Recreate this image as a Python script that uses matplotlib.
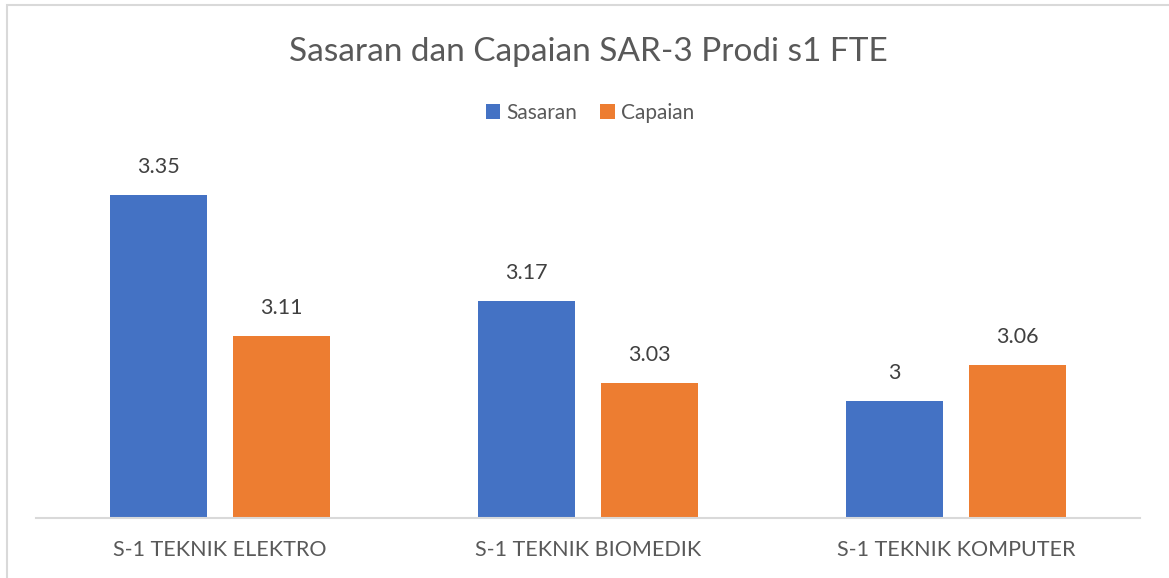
import numpy as np
from matplotlib import pyplot as plt
from matplotlib.patches import Rectangle

categories = ["S-1 TEKNIK ELEKTRO", "S-1 TEKNIK BIOMEDIK", "S-1 TEKNIK KOMPUTER"]
sasaran = [3.35, 3.17, 3.00]
capaian = [3.11, 3.03, 3.06]

title = "Sasaran dan Capaian SAR-3 Prodi s1 FTE"
blue = "#4472C4"
orange = "#ED7D31"
grey_text = "#595959"
label_text = "#404040"

plt.rcParams["font.family"] = ["Lato", "DejaVu Sans"]

W, H = 1169, 578
fig = plt.figure(figsize=(W / 100, H / 100), dpi=100)
ax = fig.add_axes([36 / W, (H - 518) / H, 1104 / W, (518 - 166) / H])

x = np.arange(len(categories))
bw = 0.266
off = 0.167
b1 = ax.bar(x - off, sasaran, bw, color=blue, label="Sasaran")
b2 = ax.bar(x + off, capaian, bw, color=orange, label="Capaian")

for bars in (b1, b2):
    ax.bar_label(bars, fmt="{:g}", padding=13, fontsize=15.5, color=label_text)

ax.set_ylim(2.8, 3.4)
ax.set_xlim(-0.5, 2.5)
ax.set_yticks([])
ax.set_xticks(x)
ax.set_xticklabels(categories, fontsize=15.5, color=grey_text)
ax.tick_params(axis="x", length=0, pad=16)
for side in ("top", "left", "right"):
    ax.spines[side].set_visible(False)
ax.spines["bottom"].set_color("#d9d9d9")
ax.spines["bottom"].set_linewidth(1.5)

fig.text(588 / W, 1 - 52 / H, title, ha="center", va="center",
         fontsize=24, color=grey_text)

fig.legend(handles=[b1, b2], loc="center", bbox_to_anchor=(590 / W, 1 - 113 / H),
           ncol=2, frameon=False, fontsize=15, handlelength=0.7,
           handleheight=0.7, handletextpad=0.3, columnspacing=1.1,
           labelcolor=grey_text)

fig.add_artist(Rectangle((7 / W, -0.02), 1.1, (H - 5) / H + 0.02,
                         transform=fig.transFigure, fill=False,
                         edgecolor="#d9d9d9", lw=1.5))

fig.savefig("out.png", dpi=100)
plt.close()
